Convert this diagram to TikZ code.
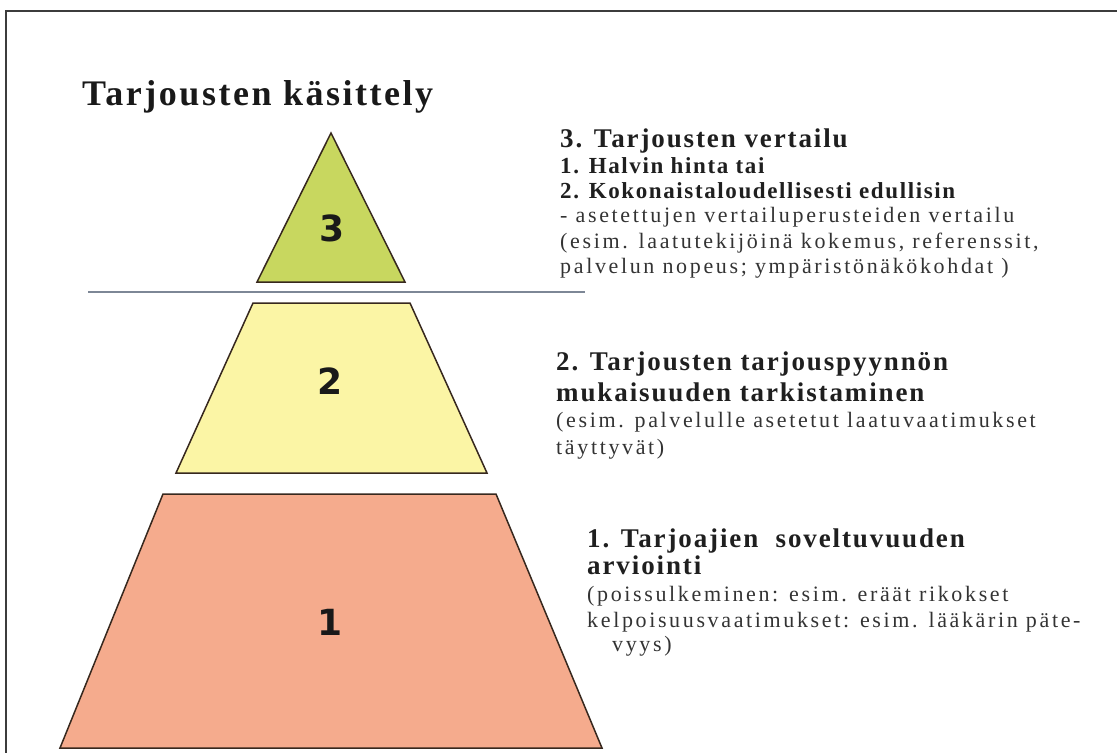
\documentclass[tikz,border=0pt]{standalone}
\usepackage{fontspec}
\setmainfont{Liberation Serif}
\newfontfamily\numfont{DejaVu Sans}
\newfontfamily\headfont[LetterSpace=7]{Liberation Serif}
\newfontfamily\notefont[LetterSpace=12]{Liberation Serif}
\definecolor{limefill}{RGB}{200,215,95}
\definecolor{paleyellow}{RGB}{251,245,165}
\definecolor{salmonfill}{RGB}{245,171,141}
\definecolor{edgecol}{RGB}{55,40,30}
\definecolor{rulecol}{RGB}{125,135,150}
\definecolor{framecol}{RGB}{60,60,60}

\begin{document}
\begin{tikzpicture}[x=1pt,y=-1pt,
    level/.style={draw=edgecol,line width=1.5pt,line join=miter},
    levelnum/.style={inner sep=0pt,font=\numfont\bfseries\fontsize{36}{40}\selectfont,text=black!90},
    head/.style={anchor=base west,inner sep=0pt,text=black!88,font=\headfont\bfseries\fontsize{27}{30}\selectfont},
    sub/.style={anchor=base west,inner sep=0pt,text=black!88,font=\headfont\bfseries\fontsize{23}{26}\selectfont},
    note/.style={anchor=base west,inner sep=0pt,text=black!80,font=\notefont\fontsize{22}{25}\selectfont}]
    \useasboundingbox (0,0) rectangle (1117,753);
    % frame
    \draw[framecol,line width=2pt] (1117,11) -- (6,11) -- (6,753);
    % title
    \node[anchor=base west,inner sep=0pt,text=black!90,font=\headfont\bfseries\fontsize{36}{40}\selectfont] (title) at (82,105) {Tarjousten käsittely};
    % pyramid
    \filldraw[level,fill=limefill] (331,133) -- (405,282) -- (257,282) -- cycle;
    \draw[rulecol,line width=2pt] (88,292) -- (585,292);
    \filldraw[level,fill=paleyellow] (253,303) -- (410,303) -- (487,473) -- (176,473) -- cycle;
    \filldraw[level,fill=salmonfill] (163,494) -- (496,494) -- (602,748) -- (60,748) -- cycle;
    \node[levelnum] (n3) at (332,228) {3};
    \node[levelnum] (n2) at (330,381) {2};
    \node[levelnum] (n1) at (330,622) {1};
    % level 3 text
    \node[head] (h3) at (560,147) {3. Tarjousten vertailu};
    \node[sub] (h3a) at (560,173) {1. Halvin hinta tai};
    \node[sub] (h3b) at (560,198) {2. Kokonaistaloudellisesti edullisin};
    \node[note] (h3c) at (560,222) {- asetettujen vertailuperusteiden vertailu};
    \node[note] (h3d) at (560,248) {(esim. laatutekijöinä kokemus, referenssit,};
    \node[note] (h3e) at (560,273) {palvelun nopeus; ympäristönäkökohdat )};
    % level 2 text
    \node[head] (h2) at (556,370) {2. Tarjousten tarjouspyynnön};
    \node[head] (h2a) at (556,401) {mukaisuuden tarkistaminen};
    \node[note] (h2b) at (556,427) {(esim. palvelulle asetetut laatuvaatimukset};
    \node[note] (h2c) at (556,454) {täyttyvät)};
    % level 1 text
    \node[head] (h1) at (587,547) {1. Tarjoajien\ \ soveltuvuuden};
    \node[head] (h1a) at (587,574) {arviointi};
    \node[note] (h1b) at (587,601) {(poissulkeminen: esim. eräät rikokset};
    \node[note] (h1c) at (587,627) {kelpoisuusvaatimukset: esim. lääkärin päte-};
    \node[note] (h1d) at (612,651) {vyys)};
\end{tikzpicture}
\end{document}
